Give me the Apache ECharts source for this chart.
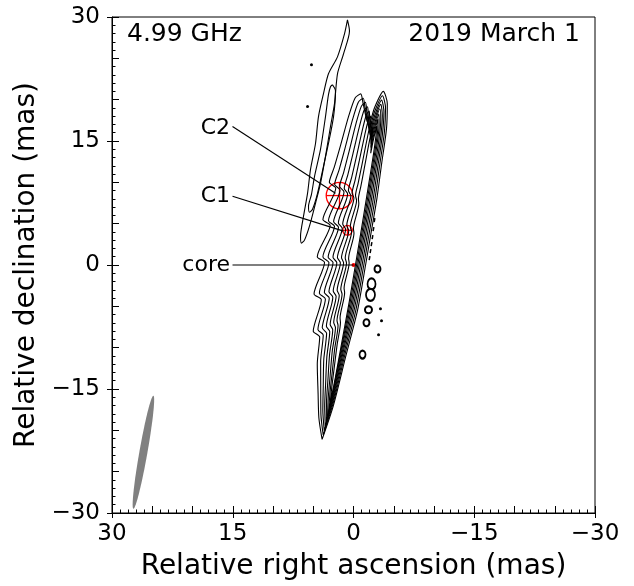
<!DOCTYPE html>
<html>
<head>
<meta charset="utf-8">
<script src="https://cdn.jsdelivr.net/npm/echarts@6/dist/echarts.min.js"></script>
<style>
  html, body { margin: 0; padding: 0; background: #fff; }
  #chart { width: 634px; height: 586px; }
</style>
</head>
<body>
<div id="chart"></div>
<script>
// contour levels of the main jet body, [RA offset, Dec offset] in mas, outer to inner
var level0 = [[3.9,-21.1],[2.5,-17.0],[0.95,-11.0],[-0.5,-5.5],[-1.5,0],[-2.2,4.0],[-2.9,8.0],[-3.5,12.3],[-4.1,16.5],[-4.2,19.5],[-3.7,21.0],[-2.6,19.0],[-1.9,16.9],[-1.2,19.5],[-0.9,20.7],[-0.2,20.2],[0.6,18.0],[1.6,14.5],[2.4,11.8],[3.0,10.0],[2.2,9.3],[3.8,5.5],[2.9,4.8],[4.5,1.0],[3.6,0.3],[4.9,-3.5],[4.0,-4.2],[5.0,-8.0],[4.2,-8.7],[4.5,-12.0],[4.4,-15.5],[4.3,-18.5],[3.9,-21.1]]
var level1 = [[3.76,-20.57],[2.49,-16.58],[1.04,-10.73],[-0.31,-5.36],[-1.28,0],[-1.96,3.9],[-2.64,7.8],[-3.24,11.99],[-3.84,16.09],[-3.98,19.01],[-3.59,20.48],[-2.61,18.53],[-1.97,16.48],[-1.43,19.01],[-1.21,20.18],[-0.60,19.70],[0.13,17.55],[1.05,14.14],[1.79,11.51],[2.34,9.75],[1.67,9.07],[3.11,5.36],[2.36,4.68],[3.80,0.98],[3.05,0.29],[4.24,-3.41],[3.49,-4.10],[4.42,-7.8],[3.76,-8.48],[4.08,-11.7],[4.07,-15.11],[4.05,-18.04],[3.76,-20.57]]
var level2 = [[3.63,-20.05],[2.47,-16.15],[1.12,-10.45],[-0.13,-5.23],[-1.07,0],[-1.73,3.8],[-2.39,7.6],[-2.99,11.69],[-3.58,15.68],[-3.78,18.53],[-3.48,19.95],[-2.62,18.05],[-2.04,16.06],[-1.65,18.53],[-1.48,19.67],[-0.97,19.19],[-0.31,17.1],[0.54,13.78],[1.22,11.21],[1.72,9.5],[1.18,8.84],[2.47,5.23],[1.86,4.56],[3.15,0.95],[2.54,0.29],[3.62,-3.33],[3.01,-3.99],[3.88,-7.6],[3.34,-8.27],[3.69,-11.4],[3.76,-14.73],[3.81,-17.58],[3.63,-20.05]]
var level3 = [[3.50,-19.52],[2.45,-15.73],[1.20,-10.18],[0.03,-5.09],[-0.87,0],[-1.51,3.7],[-2.15,7.4],[-2.75,11.38],[-3.35,15.26],[-3.58,18.04],[-3.38,19.43],[-2.62,17.58],[-2.09,15.63],[-1.84,18.04],[-1.74,19.15],[-1.30,18.69],[-0.71,16.65],[0.08,13.41],[0.70,10.92],[1.15,9.25],[0.73,8.60],[1.88,5.09],[1.40,4.44],[2.55,0.93],[2.07,0.28],[3.05,-3.24],[2.57,-3.89],[3.37,-7.4],[2.95,-8.05],[3.31,-11.1],[3.46,-14.34],[3.58,-17.11],[3.50,-19.52]]
var level4 = [[3.37,-18.99],[2.42,-15.3],[1.26,-9.9],[0.18,-4.95],[-0.69,0],[-1.31,3.6],[-1.93,7.2],[-2.53,11.07],[-3.12,14.85],[-3.39,17.55],[-3.27,18.9],[-2.62,17.1],[-2.14,15.21],[-2.01,17.55],[-1.96,18.63],[-1.60,18.18],[-1.07,16.2],[-0.35,13.05],[0.22,10.62],[0.63,9.0],[0.32,8.37],[1.34,4.95],[0.98,4.32],[2.00,0.9],[1.63,0.27],[2.52,-3.15],[2.16,-3.78],[2.90,-7.2],[2.58,-7.83],[2.97,-10.8],[3.18,-13.95],[3.36,-16.65],[3.37,-18.99]]
var level5 = [[3.23,-18.36],[2.38,-14.79],[1.31,-9.57],[0.31,-4.79],[-0.53,0],[-1.12,3.48],[-1.72,6.96],[-2.31,10.70],[-2.89,14.36],[-3.19,16.97],[-3.15,18.27],[-2.59,16.53],[-2.16,14.70],[-2.14,16.97],[-2.15,18.01],[-1.86,17.57],[-1.38,15.66],[-0.72,12.62],[-0.20,10.27],[0.17,8.7],[-0.05,8.09],[0.84,4.79],[0.59,4.18],[1.49,0.87],[1.23,0.26],[2.03,-3.05],[1.77,-3.65],[2.46,-6.96],[2.24,-7.57],[2.64,-10.44],[2.91,-13.49],[3.14,-16.10],[3.23,-18.36]]
var level6 = [[3.09,-17.72],[2.33,-14.28],[1.34,-9.24],[0.43,-4.62],[-0.38,0],[-0.95,3.36],[-1.53,6.72],[-2.11,10.33],[-2.68,13.86],[-3.01,16.38],[-3.03,17.64],[-2.56,15.96],[-2.17,14.20],[-2.26,16.38],[-2.30,17.39],[-2.08,16.97],[-1.66,15.12],[-1.06,12.18],[-0.58,9.91],[-0.25,8.4],[-0.38,7.81],[0.40,4.62],[0.24,4.03],[1.03,0.84],[0.87,0.25],[1.58,-2.94],[1.42,-3.53],[2.05,-6.72],[1.92,-7.31],[2.33,-10.08],[2.65,-13.02],[2.93,-15.54],[3.09,-17.72]]
var level7 = [[2.92,-16.88],[2.25,-13.6],[1.35,-8.8],[0.52,-4.4],[-0.24,0],[-0.79,3.2],[-1.33,6.4],[-1.90,9.84],[-2.45,13.2],[-2.79,15.6],[-2.88,16.8],[-2.48,15.2],[-2.14,13.52],[-2.31,15.6],[-2.40,16.56],[-2.23,16.16],[-1.86,14.4],[-1.32,11.6],[-0.90,9.44],[-0.61,8.0],[-0.66,7.44],[0.01,4.4],[-0.06,3.84],[0.61,0.8],[0.54,0.24],[1.17,-2.8],[1.10,-3.36],[1.67,-6.4],[1.62,-6.96],[2.03,-9.6],[2.39,-12.4],[2.70,-14.8],[2.92,-16.88]]

// the faint western arm, two levels
var armOuter = [[0.75,29.64],[0.50,28.31],[1.24,25.54],[1.99,23.13],[2.36,19.52],[2.86,16.75],[3.48,13.13],[4.10,9.88],[4.72,7.47],[5.47,4.70],[6.09,3.01],[6.46,2.65],[6.58,3.49],[6.21,5.90],[5.71,8.67],[5.34,11.57],[4.72,14.70],[4.35,17.95],[3.73,20.72],[3.11,23.13],[1.99,25.18],[1.12,27.95],[0.75,29.64]]
var armInner = [[2.61,21.81],[2.24,21.08],[2.48,17.95],[3.11,14.70],[3.73,11.93],[4.47,8.67],[5.09,6.75],[5.47,6.39],[5.59,7.11],[5.22,8.55],[4.84,10.72],[4.10,13.98],[3.48,17.95],[3.11,20.60],[2.86,21.57],[2.61,21.81]]

// tiny closed contours: [RA, Dec, width px, height px]
var islands = [[-2.98,-0.48,6,7],[-2.24,-2.29,8,11],[-2.11,-3.61,9,12],[-1.86,-5.42,7,7],[-1.61,-6.99,6,7],[-1.12,-10.84,6,8]]
var dashes = [[-2.61,5.42],[-2.48,4.34],[-2.36,3.37],[-2.24,2.53],[-2.11,1.69],[-1.99,0.84]]
var specks = [[5.22,24.22],[5.71,19.16],[-3.35,-5.30],[-3.48,-6.75],[-3.11,-8.43]]

// model components: name, RA, Dec, radius (mas)
var compNames = ['C2', 'C1']
var compX = [1.74, 0.75]
var compY = [8.4, 4.2]
var compR = [1.65, 0.6]

// annotation labels and leader lines
var labelNames = ['C2', 'C1', 'core']
var labelPos = [[15.03, 16.5], [15.03, 8.3], [15.03, 0]]
var leaders = [[[15.03, 16.75], [2.24, 8.67]], [[15.03, 8.31], [1.24, 4.10]], [[15.03, 0], [0, 0]]]

// restoring beam: RA, Dec, major, minor (mas), position angle (deg)
var beam = [26.1, -22.65, 13.9, 1.0, -10.3]

var font = 'DejaVu Sans'
function tickFmt (v) { return v < 0 ? '\u2212' + (-v) : String(v) }

var myChart = echarts.init(document.getElementById('chart'))

var series = []
var levels = [level0, level1, level2, level3, level4, level5, level6, level7, armOuter, armInner]
levels.forEach(function (lv) {
  series.push({
    type: 'line', data: lv, showSymbol: false, smooth: 0.25, silent: true,
    lineStyle: { color: '#000', width: 1.1 }
  })
})
series.push({
  type: 'scatter', silent: true,
  data: islands,
  symbol: 'emptyCircle',
  symbolSize: function (v) { return [v[2], v[3]] },
  itemStyle: { color: '#000', borderWidth: 1.1, opacity: 1 }
})
series.push({
  type: 'scatter', silent: true, data: dashes, symbol: 'rect', symbolSize: [1.5, 4], symbolRotate: -10,
  itemStyle: { color: '#000', opacity: 1 }
})
series.push({
  type: 'scatter', silent: true, data: specks, symbolSize: 3, itemStyle: { color: '#000', opacity: 1 }
})
leaders.forEach(function (ln) {
  series.push({ type: 'line', data: ln, showSymbol: false, silent: true, lineStyle: { color: '#000', width: 1.1 } })
})
series.push({
  type: 'custom', silent: true,
  data: compNames.map(function (n, i) { return [compX[i], compY[i], compR[i]] }),
  renderItem: function (params, api) {
    var c = api.coord([api.value(0), api.value(1)])
    var r = api.size([api.value(2), 0])[0]
    var st = { stroke: '#ff0000', lineWidth: 1.3, fill: 'transparent' }
    return {
      type: 'group',
      children: [
        { type: 'circle', shape: { cx: c[0], cy: c[1], r: r }, style: st },
        { type: 'line', shape: { x1: c[0] - r, y1: c[1], x2: c[0] + r, y2: c[1] }, style: st },
        { type: 'line', shape: { x1: c[0], y1: c[1] - r, x2: c[0], y2: c[1] + r }, style: st }
      ]
    }
  }
})
series.push({
  type: 'scatter', silent: true, data: [[0, 0]], symbolSize: 4, itemStyle: { color: '#ff0000', opacity: 1 }
})
series.push({
  type: 'scatter', silent: true,
  data: labelNames.map(function (n, i) { return { name: n, value: labelPos[i] } }),
  symbolSize: 1,
  itemStyle: { color: 'rgba(0,0,0,0)', opacity: 1 },
  label: { show: true, position: 'left', distance: 2, formatter: '{b}', fontSize: 22, fontFamily: font, color: '#000', opacity: 1 }
})
series.push({
  type: 'custom', silent: true,
  data: [beam],
  renderItem: function (params, api) {
    var c = api.coord([api.value(0), api.value(1)])
    var s = api.size([1, 1])
    var a = api.value(2) / 2
    var b = api.value(3) / 2
    var pa = api.value(4) * Math.PI / 180
    var pts = []
    for (var i = 0; i < 90; i++) {
      var t = i / 90 * 2 * Math.PI
      var u = a * Math.cos(t)
      var v = b * Math.sin(t)
      var dx = u * Math.sin(pa) + v * Math.cos(pa)
      var dy = u * Math.cos(pa) - v * Math.sin(pa)
      pts.push([c[0] - dx * s[0], c[1] - dy * s[1]])
    }
    return { type: 'polygon', shape: { points: pts }, style: { fill: '#808080' } }
  }
})

var option = {
  animation: false,
  grid: { left: 112, right: 39, top: 17, bottom: 70, show: true, borderColor: '#000', borderWidth: 1 },
  xAxis: [
    {
      type: 'value', min: -30, max: 30, interval: 15, inverse: true, position: 'bottom',
      axisLine: { onZero: false, lineStyle: { color: '#000' } },
      axisTick: { length: 5, lineStyle: { color: '#000' } },
      axisLabel: { fontSize: 23, fontFamily: font, color: '#000', margin: 10, formatter: tickFmt },
      splitLine: { show: false },
      name: 'Relative right ascension (mas)', nameLocation: 'middle', nameGap: 40,
      nameTextStyle: { fontSize: 28, fontFamily: font, color: '#000' }
    },
    {
      type: 'value', min: -30, max: 30, interval: 5, inverse: true, position: 'bottom',
      axisLine: { show: false, onZero: false },
      axisTick: { inside: true, length: 7, lineStyle: { color: '#000' } },
      minorTick: { show: true, splitNumber: 5, length: 3.5, lineStyle: { color: '#000' } },
      axisLabel: { show: false }, splitLine: { show: false }
    }
  ],
  yAxis: [
    {
      type: 'value', min: -30, max: 30, interval: 15, position: 'left',
      axisLine: { onZero: false, lineStyle: { color: '#000' } },
      axisTick: { length: 5, lineStyle: { color: '#000' } },
      axisLabel: { fontSize: 23, fontFamily: font, color: '#000', margin: 12, formatter: tickFmt },
      splitLine: { show: false },
      name: 'Relative declination (mas)', nameLocation: 'middle', nameGap: 66,
      nameTextStyle: { fontSize: 28, fontFamily: font, color: '#000' }
    },
    {
      type: 'value', min: -30, max: 30, interval: 5, position: 'left',
      axisLine: { show: false, onZero: false },
      axisTick: { inside: true, length: 7, lineStyle: { color: '#000' } },
      minorTick: { show: true, splitNumber: 5, length: 3.5, lineStyle: { color: '#000' } },
      axisLabel: { show: false }, splitLine: { show: false }
    }
  ],
  graphic: [
    { type: 'text', left: 127, top: 22, style: { text: '4.99 GHz', font: '25px "DejaVu Sans"', fill: '#000' } },
    { type: 'text', right: 54, top: 22, style: { text: '2019 March 1', font: '25px "DejaVu Sans"', fill: '#000' } }
  ],
  series: series
}
myChart.setOption(option)
</script>
</body>
</html>
